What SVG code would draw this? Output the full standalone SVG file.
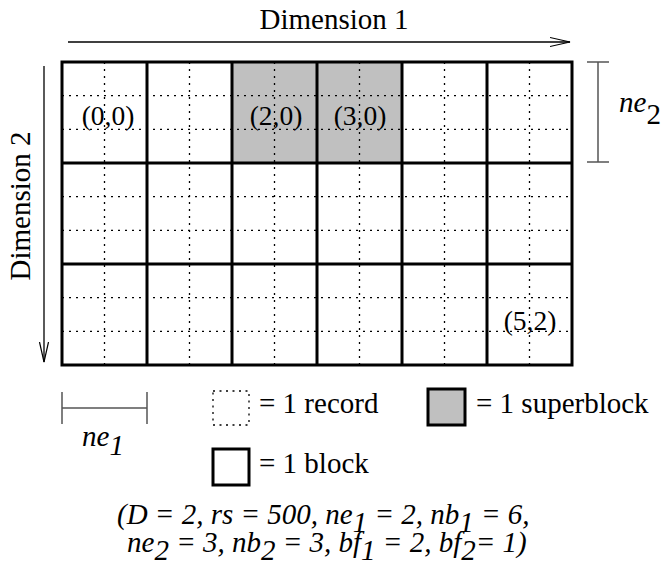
<svg xmlns="http://www.w3.org/2000/svg" width="671" height="580" viewBox="0 0 671 580">
<style>
.t,.i,.c{font-family:'Liberation Serif','Times New Roman',Tinos,'DejaVu Serif',serif;fill:#000;font-size:29px}
.c{font-size:27.5px}
.i{font-style:italic}
.blk{fill:none;stroke:#000;stroke-width:3}
.dot{stroke:#000;stroke-width:1.3;stroke-dasharray:2,5;fill:none}
.thin{stroke:#000;stroke-width:1.3;fill:none}
.gray{stroke:#555;stroke-width:1.5;fill:none}
</style>
<defs>
<marker id="ah" markerWidth="22" markerHeight="12" refX="20" refY="6" orient="auto" markerUnits="userSpaceOnUse">
<path d="M0,1.5 L20,6 L0,10.5" fill="none" stroke="#000" stroke-width="1.2"/>
</marker>
</defs>
<rect width="671" height="580" fill="#fff"/>
<g id="grid">
<rect x="232" y="62" width="170" height="101" fill="#c0c0c0"/>
<g class="dot">
<path d="M104.5,62V365M189.5,62V365M274.5,62V365M359.5,62V365M444.5,62V365M529.5,62V365"/>
<path d="M62,95.7H572M62,129.3H572M62,196.7H572M62,230.3H572M62,297.7H572M62,331.3H572"/>
</g>
<path class="blk" d="M62,62H572V365H62Z M147,62V365M232,62V365M317,62V365M402,62V365M487,62V365M62,163H572M62,264H572"/>
<text class="c" x="108" y="125" text-anchor="middle">(0,0)</text>
<text class="c" x="276" y="125" text-anchor="middle">(2,0)</text>
<text class="c" x="360" y="125" text-anchor="middle">(3,0)</text>
<text class="c" x="530" y="330" text-anchor="middle">(5,2)</text>
</g>
<g id="connectors">
<line class="thin" x1="68" y1="42" x2="570" y2="42" marker-end="url(#ah)"/>
<line class="thin" x1="44" y1="66" x2="44" y2="362" marker-end="url(#ah)"/>
</g>
<g id="dim1"><text class="t" x="334" y="29" text-anchor="middle">Dimension 1</text></g>
<g id="dim2"><text class="t" transform="translate(30,206) rotate(-90)" text-anchor="middle">Dimension 2</text></g>
<g id="ne2">
<path class="gray" d="M598,62V162M587,62H609M587,162H609"/>
<text class="i" x="619" y="112">ne<tspan font-style="normal" dy="12">2</tspan></text>
</g>
<g id="ne1">
<path class="gray" d="M62,392V424M147,392V424M62,408H147"/>
<text class="i" x="82" y="446">ne<tspan dy="9">1</tspan></text>
</g>
<g id="legend-record">
<rect class="dot" x="213" y="391" width="36" height="34" style="stroke-dasharray:2,4.5"/>
<text class="t" x="259" y="413">= 1 record</text>
</g>
<g id="legend-superblock">
<rect x="428" y="389" width="37" height="36" fill="#c0c0c0" stroke="#000" stroke-width="3"/>
<text class="t" x="476" y="413">= 1 superblock</text>
</g>
<g id="legend-block">
<rect class="blk" x="213" y="449" width="36" height="36" fill="#fff"/>
<text class="t" x="259" y="473">= 1 block</text>
</g>
<g id="params">
<text class="i" x="117" y="524">(D = 2, rs = 500, ne<tspan dy="8">1</tspan><tspan dy="-8"> = 2, nb</tspan><tspan dy="8">1</tspan><tspan dy="-8"> = 6,</tspan></text>
<text class="i" x="127" y="552">ne<tspan dy="8">2</tspan><tspan dy="-8"> = 3, nb</tspan><tspan dy="8">2</tspan><tspan dy="-8"> = 3, bf</tspan><tspan dy="8">1</tspan><tspan dy="-8"> = 2, bf</tspan><tspan dy="8">2</tspan><tspan dy="-8">= 1)</tspan></text>
</g>
</svg>
